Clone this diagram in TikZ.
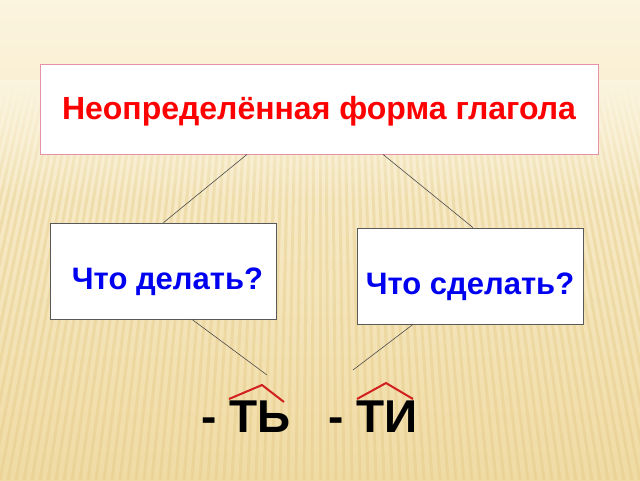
\documentclass[tikz,border=0pt]{standalone}
\usepackage{fontspec}
\setmainfont{Liberation Sans}
\usetikzlibrary{positioning,fadings}

\definecolor{bgtop}{HTML}{FBF4DE}
\definecolor{bgbot}{HTML}{F0DBA4}
\definecolor{stripe}{HTML}{E2C67E}
\definecolor{titlered}{HTML}{FF0000}
\definecolor{qblue}{HTML}{0000F0}
\definecolor{pinkline}{HTML}{E890A8}
\definecolor{hatred}{HTML}{D02020}

\begin{document}
\begin{tikzpicture}[x=1pt,y=-1pt,
    titlebox/.style={draw=pinkline,fill=white,line width=0.8pt,
        minimum width=558pt,minimum height=90pt,inner sep=0pt,
        text height=20pt,text depth=0pt,text=titlered,
        font=\bfseries\fontsize{32}{36}\selectfont},
    qbox/.style={draw=gray!70!black,fill=white,line width=0.8pt,
        minimum width=226pt,minimum height=96pt,inner sep=0pt,
        text height=37pt,text depth=0pt,text=qblue,
        font=\bfseries\fontsize{31}{35}\selectfont},
    suffix/.style={anchor=base west,inner sep=0pt,
        font=\bfseries\fontsize{46}{50}\selectfont},
    link/.style={draw=black!70,line width=0.6pt},
    hat/.style={draw=hatred,line width=2pt}]

    % background
    \shade[top color=bgtop,bottom color=bgbot] (0,0) rectangle (640,480);
    \begin{scope}
        \clip (0,84) rectangle (640,480);
        \foreach \x in {-320,-312,...,960}
            \draw[stripe,line width=3pt,opacity=0.35] (320,-1200) -- (\x,480);
    \end{scope}
    \fill[bgtop,path fading=south] (0,80) rectangle (640,200);
    \useasboundingbox (0,0) rectangle (640,480);

    \node[titlebox] (form) at (319,109) {Неопределённая форма глагола};

    \node[qbox] (imperf) at (163.5,271) {\hspace*{8pt}Что делать?};
    \node[qbox] (perf) at (470,276) {Что сделать?};

    \coordinate (ti1) at (267,375);
    \coordinate (ti2) at (353,370);

    \path[link] ([xshift=-72pt]form.south) edge (imperf.north)
                ([xshift=64pt]form.south) edge ([xshift=3pt]perf.north)
                ([xshift=28.5pt]imperf.south) edge (ti1)
                ([xshift=-57pt]perf.south) edge (ti2);

    \node[suffix] (tsoft) at (201,432) {- ТЬ};
    \node[suffix] (tii) at (328,432) {- ТИ};

    % suffix marks
    \draw[hat] (229,399) -- (262,385) -- (284,402);
    \draw[hat] (357,399) -- (386,383) -- (413,399);

\end{tikzpicture}
\end{document}
